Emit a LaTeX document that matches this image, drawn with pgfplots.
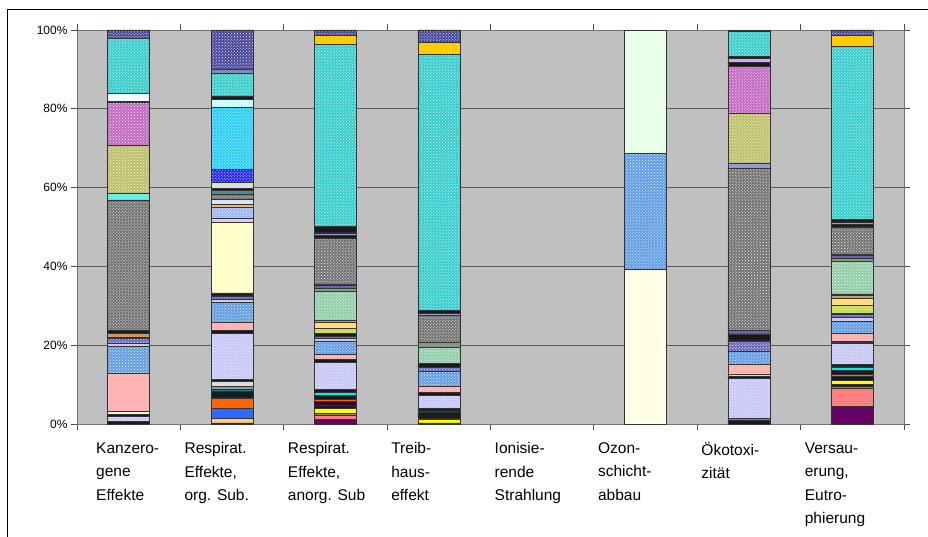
\documentclass[border=0pt]{standalone}
\usepackage{fontspec}
\setmainfont{Liberation Sans}
\usepackage{pgfplots}
\pgfplotsset{compat=1.18}
\usetikzlibrary{patterns}

% segment colours (Excel palette)
\definecolor{cblk}{HTML}{1A1A1A}
\definecolor{cpyellow}{HTML}{FFFFE5}
\definecolor{cpurple}{HTML}{660066}
\definecolor{csalmon}{HTML}{FF8080}
\definecolor{cpeach}{HTML}{FFCC99}
\definecolor{cblue}{HTML}{3366FF}
\definecolor{cgray1}{HTML}{808080}
\definecolor{cyellow}{HTML}{FFFF00}
\definecolor{cplum}{HTML}{330033}
\definecolor{corange}{HTML}{FF6600}
\definecolor{cteal}{HTML}{008080}
\definecolor{ccyan}{HTML}{00EEEE}
\definecolor{cgray2}{HTML}{999999}
\definecolor{clgray}{HTML}{DDDDDD}
\definecolor{clav}{HTML}{C4C4FF}
\definecolor{ccream}{HTML}{FFFFCC}
\definecolor{cpink}{HTML}{FFB4B4}
\definecolor{clblue}{HTML}{5F9BE6}
\definecolor{clavthin}{HTML}{CCCCEE}
\definecolor{cdblue2}{HTML}{6666BB}
\definecolor{cygreen}{HTML}{CCDD66}
\definecolor{cgoldl}{HTML}{FFDD77}
\definecolor{ctan}{HTML}{CC9966}
\definecolor{clyellow}{HTML}{FFFFCC}
\definecolor{clavpink}{HTML}{DDCCEE}
\definecolor{ccornfl}{HTML}{99B4FF}
\definecolor{clorange}{HTML}{FFAA55}
\definecolor{clavl2}{HTML}{E0E0F0}
\definecolor{cseafoam}{HTML}{8FCCA8}
\definecolor{cgraygreen}{HTML}{889988}
\definecolor{cbluethin}{HTML}{6666AA}
\definecolor{cgraydot}{HTML}{707070}
\definecolor{cteal2}{HTML}{558888}
\definecolor{clavthin3}{HTML}{9999CC}
\definecolor{clcyan}{HTML}{66EEEE}
\definecolor{colive}{HTML}{BDBD66}
\definecolor{cmagenta}{HTML}{C266C2}
\definecolor{clav2}{HTML}{CCAAFF}
\definecolor{cwhite}{HTML}{F0FFFF}
\definecolor{cbblue}{HTML}{2222FF}
\definecolor{csky}{HTML}{22CCFF}
\definecolor{cpcyan}{HTML}{CCFFFF}
\definecolor{cturq}{HTML}{33CCCC}
\definecolor{cgrayblue}{HTML}{8888AA}
\definecolor{cgold}{HTML}{FFCC00}
\definecolor{cdblue}{HTML}{444499}
\definecolor{cpgreen}{HTML}{E8FFE8}
\definecolor{plotbg}{HTML}{C0C0C0}

\pgfplotsset{
  seg/.style={fill=#1, draw=black!80, line width=0.5bp},
  dseg/.style={fill=#1, draw=black!80, line width=0.5bp,
    postaction={pattern=crosshatch dots, pattern color=white}},
}
\newcommand{\ind}{\hspace*{15bp}}

\begin{document}
\begin{tikzpicture}
\useasboundingbox (-77bp,-113bp) rectangle (851bp,424bp);
\begin{axis}[
    at={(0,0)}, anchor=south west,
    scale only axis,
    width=827bp, height=394bp,
    ybar stacked,
    bar width=42bp,
    xmin=-0.5, xmax=7.5,
    ymin=0, ymax=100,
    axis background/.style={fill=plotbg},
    axis line style={black!55},
    ytick={0,20,40,60,80,100},
    yticklabels={0\%,20\%,40\%,60\%,80\%,100\%},
    yticklabel style={font=\fontsize{12bp}{14bp}\selectfont},
    ymajorgrids=true,
    grid style={black!65, line width=0.8bp},
    tick align=outside,
    major tick length=6bp,
    tick style={black!70, line width=0.8bp},
    xtick={-0.5,0.5,...,7.5},
    xticklabels={},
    extra x ticks={0,1,2,3,4,5,6,7},
    extra x tick labels={{\ind Kanzero-\\\ind gene\\\ind Effekte},{Respirat.\\Effekte,\\org. Sub.},{Respirat.\\Effekte,\\anorg. Sub},{Treib-\\haus-\\effekt},{Ionisie-\\rende\\Strahlung},{Ozon-\\schicht-\\abbau},{Ökotoxi-\\zität},{Versau-\\erung,\\Eutro-\\phierung}},
    extra x tick style={major tick length=0pt, grid=none,
      xticklabel style={align=left, anchor=north west, xshift=-51bp,
        font=\fontsize{15.5bp}{23.5bp}\selectfont, yshift=-15bp}},
    /pgf/number format/assume math mode=true,
]
% categories: Kanz, Resp.org, Resp.anorg, Treibhaus, Ionis., Ozon, Oekotox, Versauerung
\addplot[seg=cpyellow]   coordinates {(0,0) (1,0) (2,0) (3,0) (4,0) (5,39.3) (6,0) (7,0)};
\addplot[seg=cblk]       coordinates {(0,0.6) (1,0.3) (2,0) (3,0.3) (4,0) (5,0) (6,1.0) (7,0)};
\addplot[seg=cpurple]    coordinates {(0,0) (1,0) (2,1.2) (3,0) (4,0) (5,0) (6,0) (7,4.4)};
\addplot[seg=csalmon]    coordinates {(0,0) (1,0) (2,1.1) (3,0) (4,0) (5,0) (6,0) (7,4.6)};
\addplot[seg=cpeach]     coordinates {(0,0) (1,1.2) (2,0) (3,0) (4,0) (5,0) (6,0) (7,0)};
\addplot[seg=cblue]      coordinates {(0,0) (1,2.4) (2,0) (3,0) (4,0) (5,0) (6,0) (7,0)};
\addplot[seg=cgray1]     coordinates {(0,0) (1,0) (2,0.4) (3,0) (4,0) (5,0) (6,0.5) (7,0.5)};
\addplot[seg=cblk]       coordinates {(0,0) (1,0) (2,0) (3,0) (4,0) (5,0) (6,0) (7,0.6)};
\addplot[seg=cyellow]    coordinates {(0,0) (1,0) (2,1.3) (3,1.0) (4,0) (5,0) (6,0) (7,0.9)};
\addplot[seg=cblk]       coordinates {(0,0) (1,0) (2,0.8) (3,1.7) (4,0) (5,0) (6,0) (7,1.1)};
\addplot[seg=cplum]      coordinates {(0,0) (1,0) (2,0.9) (3,0) (4,0) (5,0) (6,0) (7,0)};
\addplot[seg=corange]    coordinates {(0,0) (1,2.7) (2,0.6) (3,0) (4,0) (5,0) (6,0) (7,0.5)};
\addplot[seg=cblk]       coordinates {(0,0) (1,1.6) (2,0.9) (3,0) (4,0) (5,0) (6,0) (7,1.1)};
\addplot[seg=cteal]      coordinates {(0,0) (1,0.7) (2,0) (3,0) (4,0) (5,0) (6,0) (7,0)};
\addplot[seg=ccyan]      coordinates {(0,0) (1,0) (2,0.8) (3,0.3) (4,0) (5,0) (6,0) (7,0.8)};
\addplot[seg=cgray2]     coordinates {(0,0) (1,0.6) (2,0) (3,0) (4,0) (5,0) (6,0) (7,0)};
\addplot[seg=clgray]     coordinates {(0,0) (1,1.4) (2,0) (3,0) (4,0) (5,0) (6,0) (7,0)};
\addplot[seg=cblk]       coordinates {(0,0) (1,0.4) (2,0.8) (3,0.7) (4,0) (5,0) (6,0) (7,0.7)};
\addplot[dseg=clav]      coordinates {(0,1.3) (1,11.7) (2,6.8) (3,3.2) (4,0) (5,0) (6,10.1) (7,5.4)};
\addplot[seg=cblk]       coordinates {(0,0.6) (1,0.8) (2,0.8) (3,0.8) (4,0) (5,0) (6,0.6) (7,0.4)};
\addplot[seg=ccream]     coordinates {(0,0.7) (1,0) (2,0) (3,0) (4,0) (5,0) (6,0.5) (7,0)};
\addplot[seg=cpink]      coordinates {(0,9.8) (1,1.9) (2,1.3) (3,1.7) (4,0) (5,0) (6,2.5) (7,2.0)};
\addplot[dseg=clblue]    coordinates {(0,6.8) (1,5.1) (2,3.4) (3,3.8) (4,0) (5,29.3) (6,3.3) (7,3.1)};
\addplot[seg=clavthin]   coordinates {(0,0.8) (1,0.8) (2,0.6) (3,0) (4,0) (5,0) (6,0) (7,1.0)};
\addplot[dseg=cdblue2]   coordinates {(0,1.2) (1,0.9) (2,0.5) (3,0.8) (4,0) (5,0) (6,2.6) (7,0.8)};
\addplot[seg=cblk]       coordinates {(0,0.2) (1,0.8) (2,0.8) (3,1.1) (4,0) (5,0) (6,1.8) (7,0.2)};
\addplot[seg=cygreen]    coordinates {(0,0) (1,0) (2,1.3) (3,0) (4,0) (5,0) (6,0) (7,2.1)};
\addplot[seg=cgoldl]     coordinates {(0,0) (1,0) (2,1.4) (3,0) (4,0) (5,0) (6,0) (7,1.6)};
\addplot[seg=ctan]       coordinates {(0,1.0) (1,0) (2,0.7) (3,0) (4,0) (5,0) (6,0) (7,0.8)};
\addplot[seg=cblk]       coordinates {(0,0.8) (1,0) (2,0) (3,0) (4,0) (5,0) (6,0) (7,0.4)};
\addplot[seg=clyellow]   coordinates {(0,0) (1,18.0) (2,0) (3,0) (4,0) (5,0) (6,0) (7,0)};
\addplot[seg=clavpink]   coordinates {(0,0) (1,0.9) (2,0) (3,0) (4,0) (5,0) (6,0) (7,0)};
\addplot[dseg=ccornfl]   coordinates {(0,0) (1,2.9) (2,0) (3,0) (4,0) (5,0) (6,0) (7,0)};
\addplot[seg=clorange]   coordinates {(0,0) (1,0.6) (2,0) (3,0) (4,0) (5,0) (6,0) (7,0)};
\addplot[seg=clavl2]     coordinates {(0,0) (1,1.4) (2,0) (3,0) (4,0) (5,0) (6,0) (7,0)};
\addplot[dseg=cseafoam]  coordinates {(0,0) (1,0) (2,7.2) (3,4.0) (4,0) (5,0) (6,0) (7,8.2)};
\addplot[seg=cgraygreen] coordinates {(0,0) (1,0) (2,0.8) (3,1.3) (4,0) (5,0) (6,0) (7,0.8)};
\addplot[seg=cbluethin]  coordinates {(0,0) (1,0) (2,0.9) (3,0) (4,0) (5,0) (6,0.8) (7,0.9)};
\addplot[seg=cblk]       coordinates {(0,0) (1,0) (2,0.2) (3,0) (4,0) (5,0) (6,0) (7,0.2)};
\addplot[dseg=cgraydot]  coordinates {(0,33.1) (1,1.2) (2,11.6) (3,6.8) (4,0) (5,0) (6,41.3) (7,6.9)};
\addplot[seg=cteal2]     coordinates {(0,0) (1,1.0) (2,0) (3,0) (4,0) (5,0) (6,0) (7,0)};
\addplot[seg=cblk]       coordinates {(0,0) (1,0.5) (2,0.7) (3,0) (4,0) (5,0) (6,0) (7,0.7)};
\addplot[seg=clavthin3]  coordinates {(0,0) (1,0) (2,0.7) (3,0.6) (4,0) (5,0) (6,1.3) (7,0.5)};
\addplot[seg=cblk]       coordinates {(0,0) (1,0) (2,1.7) (3,0.8) (4,0) (5,0) (6,0) (7,0.7)};
\addplot[seg=clgray]     coordinates {(0,0) (1,1.5) (2,0) (3,0) (4,0) (5,0) (6,0) (7,0)};
\addplot[seg=clcyan]     coordinates {(0,1.7) (1,0) (2,0) (3,0) (4,0) (5,0) (6,0) (7,0)};
\addplot[dseg=colive]    coordinates {(0,12.1) (1,0) (2,0) (3,0) (4,0) (5,0) (6,12.6) (7,0)};
\addplot[dseg=cmagenta]  coordinates {(0,10.9) (1,0) (2,0) (3,0) (4,0) (5,0) (6,11.8) (7,0)};
\addplot[seg=cblk]       coordinates {(0,0.2) (1,0) (2,0) (3,0) (4,0) (5,0) (6,1.1) (7,0)};
\addplot[seg=clav2]      coordinates {(0,0) (1,0) (2,0) (3,0) (4,0) (5,0) (6,1.0) (7,0)};
\addplot[seg=cwhite]     coordinates {(0,2.1) (1,0) (2,0) (3,0) (4,0) (5,0) (6,0) (7,0)};
\addplot[dseg=cbblue]    coordinates {(0,0) (1,3.3) (2,0) (3,0) (4,0) (5,0) (6,0) (7,0)};
\addplot[dseg=csky]      coordinates {(0,0) (1,15.8) (2,0) (3,0) (4,0) (5,0) (6,0) (7,0)};
\addplot[seg=cpcyan]     coordinates {(0,0) (1,1.9) (2,0) (3,0) (4,0) (5,0) (6,0) (7,0)};
\addplot[seg=cblk]       coordinates {(0,0) (1,1.0) (2,0) (3,0) (4,0) (5,0) (6,0.6) (7,0)};
\addplot[dseg=cturq]     coordinates {(0,14.0) (1,5.7) (2,46.2) (3,64.9) (4,0) (5,0) (6,6.3) (7,44.0)};
\addplot[seg=cgrayblue]  coordinates {(0,0) (1,1.0) (2,0) (3,0) (4,0) (5,0) (6,0) (7,0)};
\addplot[seg=cgold]      coordinates {(0,0) (1,0) (2,2.2) (3,3.1) (4,0) (5,0) (6,0.3) (7,2.8)};
\addplot[dseg=cdblue]    coordinates {(0,2.1) (1,10.0) (2,1.4) (3,3.1) (4,0) (5,0) (6,0) (7,1.3)};
\addplot[seg=cpgreen]    coordinates {(0,0) (1,0) (2,0) (3,0) (4,0) (5,31.4) (6,0) (7,0)};
\end{axis}
% outer chart frame (cut off at right and bottom in the original)
\draw[black, line width=1bp] (-69bp,-120bp) -- (-69bp,414bp) -- (860bp,414bp);
\end{tikzpicture}
\end{document}
